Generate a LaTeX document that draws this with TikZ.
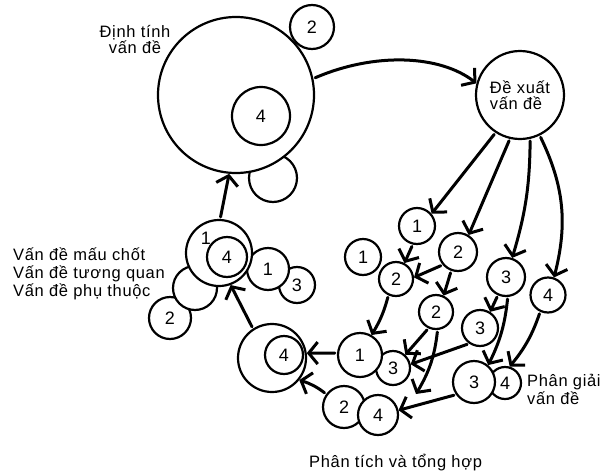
\documentclass[tikz,border=0pt]{standalone}
\usepackage{fontspec}
\setmainfont{Liberation Sans}
\newfontfamily\labfont[LetterSpace=4]{Liberation Sans}
\usetikzlibrary{arrows.meta}
\begin{document}
\begin{tikzpicture}[x=1pt,y=-1pt,
  circ/.style={circle,draw,line width=2.2pt,fill=white,inner sep=0pt,font=\fontsize{18}{18}\selectfont},
  num/.style={inner sep=0pt,font=\fontsize{18}{18}\selectfont},
  lab/.style={inner sep=0pt,font=\labfont\fontsize{16.5}{16}\selectfont},
  arr/.style={line width=3pt,line cap=round,shorten <=2pt,-{Straight Barb[length=9pt,width=22pt]}}]
\useasboundingbox (0,0) rectangle (610,474);
% top group
\node[circ,minimum size=48pt] (de) at (273,178) {};
\node[circ,minimum size=44pt] (d2) at (312,27) {2};
\node[circ,minimum size=156pt] (dt) at (236,95) {};
\node[circ,minimum size=58pt] (d4) at (261,116) {4};
\node[lab,align=center,anchor=base] (dtl) at (135,53) {Định tính\\vấn đề};
% proposal
\node[circ,minimum size=88pt,font=\labfont\fontsize{16.5}{16}\selectfont,align=left] (dx) at (520,95) {Đề xuất\\vấn đề};
% left cluster
\node[circ,minimum size=42pt] (l2) at (170,318) {2};
\node[circ,minimum size=44pt] (le) at (195,288) {};
\node[circ,minimum size=36pt] (l3) at (297,285) {3};
\node[circ,minimum size=42pt] (l1) at (268,269) {1};
\node[circ,minimum size=66pt] (lb) at (219,253) {};
\node[circ,minimum size=40pt] (lb4) at (227,257) {4};
\node[num] (lb1) at (206,238) {1};
\node[lab,align=left,anchor=base west,font=\labfont\fontsize{16.5}{18}\selectfont] (lv) at (13,296) {Vấn đề mấu chốt\\Vấn đề tương quan\\Vấn đề phụ thuộc};
% big 4
\node[circ,minimum size=68pt] (b) at (272,358) {};
\node[circ,minimum size=38pt] (b4) at (284,355) {4};
% right cluster
\node[circ,minimum size=36pt] (r1a) at (417,226) {1};
\node[circ,minimum size=38pt] (r2b) at (458,252) {2};
\node[circ,minimum size=36pt] (r1b) at (363,257) {1};
\node[circ,minimum size=34pt] (r2a) at (396,279) {2};
\node[circ,minimum size=34pt] (r2c) at (436,312) {2};
\node[circ,minimum size=38pt] (r3a) at (506,277) {3};
\node[circ,minimum size=35pt] (r4a) at (548,295) {4};
\node[circ,minimum size=36pt] (r3b) at (480,328) {3};
\node[circ,minimum size=34pt] (r3c) at (393,368) {3};
\node[circ,minimum size=44pt] (r1c) at (360,355) {1};
\node[circ,minimum size=42pt] (r2d) at (344,407) {2};
\node[circ,minimum size=40pt] (r4c) at (378,415) {4};
\node[circ,minimum size=32pt] (r4b) at (505,383) {4};
\node[circ,minimum size=42pt] (r3d) at (474,382) {3};
\node[lab,align=left,anchor=base west] (pg) at (527,404) {Phân giải\\vấn đề};
\node[lab,anchor=base west] (pt) at (309,467) {Phân tích và tổng hợp};
\coordinate (fe) at (416,394);
% arrows
\draw[arr] (dt.12) .. controls (375,52) and (440,55) .. (dx.165);
\draw[arr] (dx.-123) -- (r1a.40);
\draw[arr] (dx.-103) -- (r2b.58);
\draw[arr] (dx.-77) to[bend left=8] (r3a.72);
\draw[arr] (dx.-64) to[bend left=20] (r4a.71);
\draw[arr] (r1a.-103) -- (r2a.62);
\draw[arr] (r2b.-140) -- (r2a.5);
\draw[arr] (r2b.-110) -- (r2c.65);
\draw[arr] (r2a.-115) to[bend left=8] (r1c.60);
\draw[arr] (r2c.-115) -- (r3c.47);
\draw[arr] (r2c.-85) to[bend left=12] (fe);
\draw[arr] (r3b.-125) -- (r3c.12);
\draw[arr] (r3a.-114) -- (r3b.58);
\draw[arr] (r3a.-85) to[bend left=10] (r3d.50);
\draw[arr] (r4a.-115) to[bend left=10] (r4b.74);
\draw[arr] (r3d.-145) -- (r4c.13);
\draw[arr] (r1c.175) -- (b.8);
\draw[arr] (r2d.144) to[bend right=10] (b.-39);
\draw[arr] (b.123) -- (lb.-70);
\draw[arr] (lb.88) -- (dt.-95);
\end{tikzpicture}
\end{document}
